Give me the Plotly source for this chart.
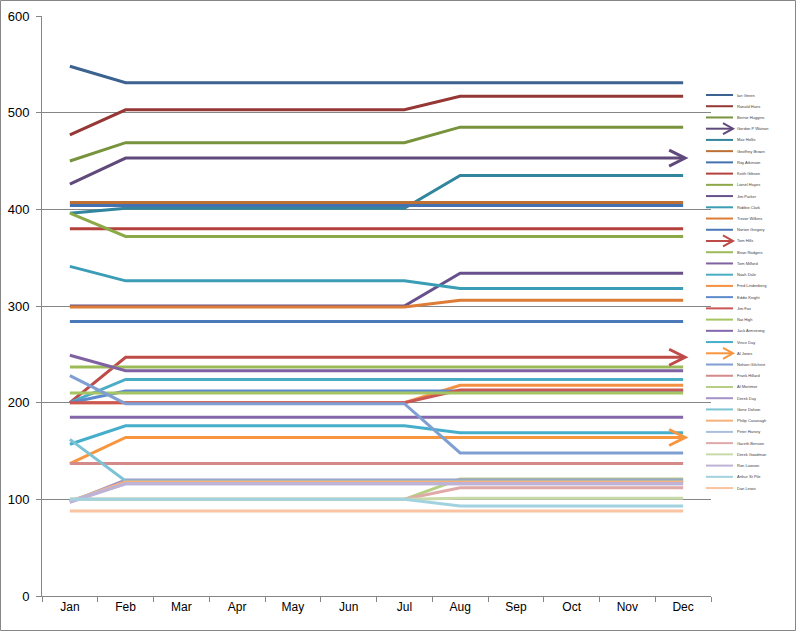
import plotly.graph_objects as go

months = ['Jan', 'Feb', 'Mar', 'Apr', 'May', 'Jun', 'Jul', 'Aug', 'Sep', 'Oct', 'Nov', 'Dec']

names = ['Ian Green', 'Ronald Hans', 'Bernie Huggins', 'Gordon P Watson', 'Max Hollis', 'Geoffrey Brown',
         'Roy Atkinson', 'Keith Gibson', 'Lionel Hayes', 'Jim Parker', 'Robbie Clark', 'Trevor Wilkins',
         'Norton Gregory', 'Tom Hills', 'Brian Rodgers', 'Tom Milford', 'Noah Dale', 'Fred Lindenberg',
         'Eddie Knight', 'Jim Fox', 'Nat High', 'Jack Armstrong', 'Vince Day', 'Al Jones',
         'Nelson Gilchrist', 'Frank Hillard', 'Al Mortimer', 'Derek Day', 'Gene Dolson', 'Philip Cavanagh',
         'Peter Harvey', 'Gareth Benson', 'Derek Goodman', 'Ron Lawson', 'Arthur St Pile', 'Dan Lewis']

# values Jan..Dec, one list per person
v01 = [548, 531, 531, 531, 531, 531, 531, 531, 531, 531, 531, 531]
v02 = [477, 503, 503, 503, 503, 503, 503, 517, 517, 517, 517, 517]
v03 = [450, 469, 469, 469, 469, 469, 469, 485, 485, 485, 485, 485]
v04 = [426, 453, 453, 453, 453, 453, 453, 453, 453, 453, 453, 453]
v05 = [396, 401, 401, 401, 401, 401, 401, 435, 435, 435, 435, 435]
v06 = [407, 407, 407, 407, 407, 407, 407, 407, 407, 407, 407, 407]
v07 = [404, 404, 404, 404, 404, 404, 404, 404, 404, 404, 404, 404]
v08 = [380, 380, 380, 380, 380, 380, 380, 380, 380, 380, 380, 380]
v09 = [396, 372, 372, 372, 372, 372, 372, 372, 372, 372, 372, 372]
v10 = [300, 300, 300, 300, 300, 300, 300, 334, 334, 334, 334, 334]
v11 = [341, 326, 326, 326, 326, 326, 326, 318, 318, 318, 318, 318]
v12 = [299, 299, 299, 299, 299, 299, 299, 306, 306, 306, 306, 306]
v13 = [284, 284, 284, 284, 284, 284, 284, 284, 284, 284, 284, 284]
v14 = [200, 247, 247, 247, 247, 247, 247, 247, 247, 247, 247, 247]
v15 = [237, 237, 237, 237, 237, 237, 237, 237, 237, 237, 237, 237]
v16 = [249, 233, 233, 233, 233, 233, 233, 233, 233, 233, 233, 233]
v17 = [200, 224, 224, 224, 224, 224, 224, 224, 224, 224, 224, 224]
v18 = [200, 200, 200, 200, 200, 200, 200, 218, 218, 218, 218, 218]
v19 = [200, 212, 212, 212, 212, 212, 212, 212, 212, 212, 212, 212]
v20 = [200, 200, 200, 200, 200, 200, 200, 213, 213, 213, 213, 213]
v21 = [210, 210, 210, 210, 210, 210, 210, 210, 210, 210, 210, 210]
v22 = [185, 185, 185, 185, 185, 185, 185, 185, 185, 185, 185, 185]
v23 = [157, 176, 176, 176, 176, 176, 176, 169, 169, 169, 169, 169]
v24 = [137, 164, 164, 164, 164, 164, 164, 164, 164, 164, 164, 164]
v25 = [228, 199, 199, 199, 199, 199, 199, 148, 148, 148, 148, 148]
v26 = [137, 137, 137, 137, 137, 137, 137, 137, 137, 137, 137, 137]
v27 = [100, 100, 100, 100, 100, 100, 100, 121, 121, 121, 121, 121]
v28 = [97, 120, 120, 120, 120, 120, 120, 120, 120, 120, 120, 120]
v29 = [162, 119, 119, 119, 119, 119, 119, 119, 119, 119, 119, 119]
v30 = [98, 118, 118, 118, 118, 118, 118, 118, 118, 118, 118, 118]
v31 = [98, 116, 116, 116, 116, 116, 116, 116, 116, 116, 116, 116]
v32 = [100, 100, 100, 100, 100, 100, 100, 112, 112, 112, 112, 112]
v33 = [100, 100, 100, 100, 100, 100, 100, 101, 101, 101, 101, 101]
v34 = [97, 116, 116, 116, 116, 116, 116, 116, 116, 116, 116, 116]
v35 = [100, 100, 100, 100, 100, 100, 100, 93, 93, 93, 93, 93]
v36 = [88, 88, 88, 88, 88, 88, 88, 88, 88, 88, 88, 88]

series = [v01, v02, v03, v04, v05, v06, v07, v08, v09, v10, v11, v12,
          v13, v14, v15, v16, v17, v18, v19, v20, v21, v22, v23, v24,
          v25, v26, v27, v28, v29, v30, v31, v32, v33, v34, v35, v36]

colors = ['#3C6290', '#953735', '#77933C', '#604A7B', '#31859C', '#BE7032',
          '#4472B0', '#B4403C', '#8BAA47', '#68508D', '#3A9DB5', '#DC7C36',
          '#4A78B8', '#BE4B48', '#9BBB59', '#7E62A2', '#4BACC6', '#F39043',
          '#5D8ACB', '#C95754', '#A5C463', '#8467AB', '#45AFCB', '#F7963F',
          '#7F9FD2', '#D38A88', '#B6CF83', '#A593C6', '#7DC3D6', '#F8B07A',
          '#A9BFE0', '#DFA9A8', '#C9DAAA', '#C0B2D6', '#A2D2E0', '#FAC3A2']

arrows = [3, 13, 23]  # series ending with an arrow head

W, H = 796, 631
ml, mr, mt, mb = 42, 85, 16, 35
pw, ph = W - ml - mr, H - mt - mb

def px(x):
    return (x - ml) / pw

def py(y):
    return (H - mb - y) / ph

fig = go.Figure()
shapes = []
annots = []
for i, vals in enumerate(series):
    fig.add_trace(go.Scatter(x=months, y=vals, mode='lines', name=names[i],
                             line=dict(color=colors[i], width=3), showlegend=False))
    if i in arrows:
        shapes.append(dict(type='path', xref='x', yref='y', xsizemode='pixel', ysizemode='pixel',
                           xanchor=len(months) - 1, yanchor=vals[-1],
                           path='M-14,8 L2,0 L-14,-8', line=dict(color=colors[i], width=3),
                           layer='above'))
    # hand-made legend, Excel style
    ly = py(95 + 11.23 * i)
    shapes.append(dict(type='line', xref='paper', yref='paper', x0=px(706), x1=px(733), y0=ly, y1=ly,
                       line=dict(color=colors[i], width=2)))
    if i in arrows:
        shapes.append(dict(type='path', xref='paper', yref='paper', xsizemode='pixel', ysizemode='pixel',
                           xanchor=px(733), yanchor=ly,
                           path='M-10,5.5 L0,0 L-10,-5.5', line=dict(color=colors[i], width=2)))
    annots.append(dict(x=px(735), y=ly, xref='paper', yref='paper', text=names[i], showarrow=False,
                       xanchor='left', yanchor='middle', font=dict(size=4, color='#404040')))

# chart area border
shapes.append(dict(type='rect', xref='paper', yref='paper', x0=px(0.5), x1=px(795.5), y0=py(630.5), y1=py(0.5),
                   line=dict(color='#868686', width=1), layer='below'))

fig.update_layout(
    width=W, height=H,
    margin=dict(l=ml, r=mr, t=mt, b=mb, autoexpand=False),
    paper_bgcolor='white', plot_bgcolor='white',
    font=dict(family='Liberation Sans', color='black'),
    shapes=shapes, annotations=annots,
    xaxis=dict(type='category', range=[-0.5, 11.5], showgrid=False, showline=True, linecolor='#868686',
               ticks='outside', tickson='boundaries', ticklen=5, tickcolor='#868686',
               tickfont=dict(size=12), automargin=False),
    yaxis=dict(range=[0, 600], dtick=100, showgrid=True, gridcolor='#868686', gridwidth=1,
               showline=True, linecolor='#868686', ticks='outside', ticklen=5, tickcolor='#868686',
               zeroline=False, ticklabelstandoff=4, tickfont=dict(size=13), automargin=False),
)

# the page body has a default margin; drop it so the chart sits at the window corner
fig.write_html("out.html", config={'displayModeBar': False},
               post_script="document.body.style.margin='0';")
